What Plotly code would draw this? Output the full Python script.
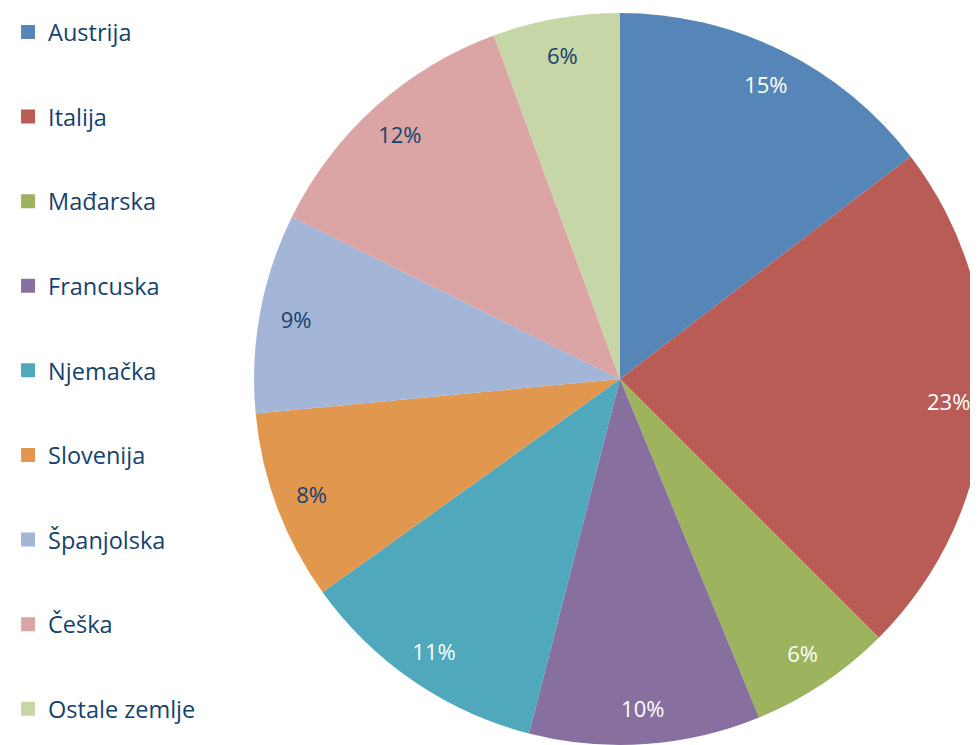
import plotly.graph_objects as go

# ---- data ----
countries = ["Austrija", "Italija", "Mađarska", "Francuska", "Njemačka",
             "Slovenija", "Španjolska", "Češka", "Ostale zemlje"]
shares = [14.6, 22.9, 6.3, 10.2, 11.1, 8.4, 8.8, 12.1, 5.6]
colors = ["#5686b8", "#b95c55", "#9db35e", "#876fa0", "#4fa8bc",
          "#e2974f", "#a3b6d8", "#daa5a4", "#c7d6a7"]
label_colors = ["#ffffff", "#ffffff", "#ffffff", "#ffffff", "#ffffff",
                "#15426d", "#15426d", "#15426d", "#15426d"]

TEXT = "#15426d"
FONT = "Open Sans"

W, H = 978, 745
OFF = 8  # page body margin offset
cx, cy, R = 617 - OFF, 379 - OFF, 369
dom_x = [(cx - R) / W, min(1.0, (cx + R) / W)]
dom_y = [(H - cy - R) / H, (H - cy + R) / H]

fig = go.Figure()

# main pie (slices)
fig.add_trace(go.Pie(
    labels=countries, values=shares, sort=False, direction="clockwise",
    rotation=0, marker=dict(colors=colors, line=dict(width=0)),
    textinfo="none", showlegend=False, domain=dict(x=dom_x, y=dom_y),
))

# transparent ring overlay carrying the percent labels near the rim
fig.add_trace(go.Pie(
    labels=countries, values=shares, sort=False, direction="clockwise",
    rotation=0, hole=0.8,
    marker=dict(colors=["rgba(0,0,0,0)"] * len(countries), line=dict(width=0)),
    texttemplate="%{percent:.0%}", textposition="inside",
    insidetextorientation="horizontal",
    textfont=dict(family=FONT, size=22, color=label_colors),
    hoverinfo="skip", showlegend=False, domain=dict(x=dom_x, y=dom_y),
))

# legend entries
for name, col in zip(countries, colors):
    fig.add_trace(go.Scatter(
        x=[None], y=[None], mode="markers", name=name, legendgroup=name,
        marker=dict(symbol="square", size=14, color=col),
        hoverinfo="skip",
    ))

fs = 23.5
item_h = 1.3 * fs + 3
gap = 84.6 - item_h

fig.update_layout(
    width=W, height=H,
    margin=dict(l=0, r=0, t=0, b=0),
    paper_bgcolor="white", plot_bgcolor="white",
    font=dict(family=FONT, color=TEXT),
    xaxis=dict(visible=False), yaxis=dict(visible=False),
    legend=dict(
        x=-OFF / W, xanchor="left", y=(H - 2.2) / H, yanchor="top",
        font=dict(family=FONT, size=fs, color=TEXT),
        tracegroupgap=gap, bgcolor="rgba(0,0,0,0)",
        itemclick=False, itemdoubleclick=False,
    ),
    showlegend=True,
)

fig.write_html("out.html")
